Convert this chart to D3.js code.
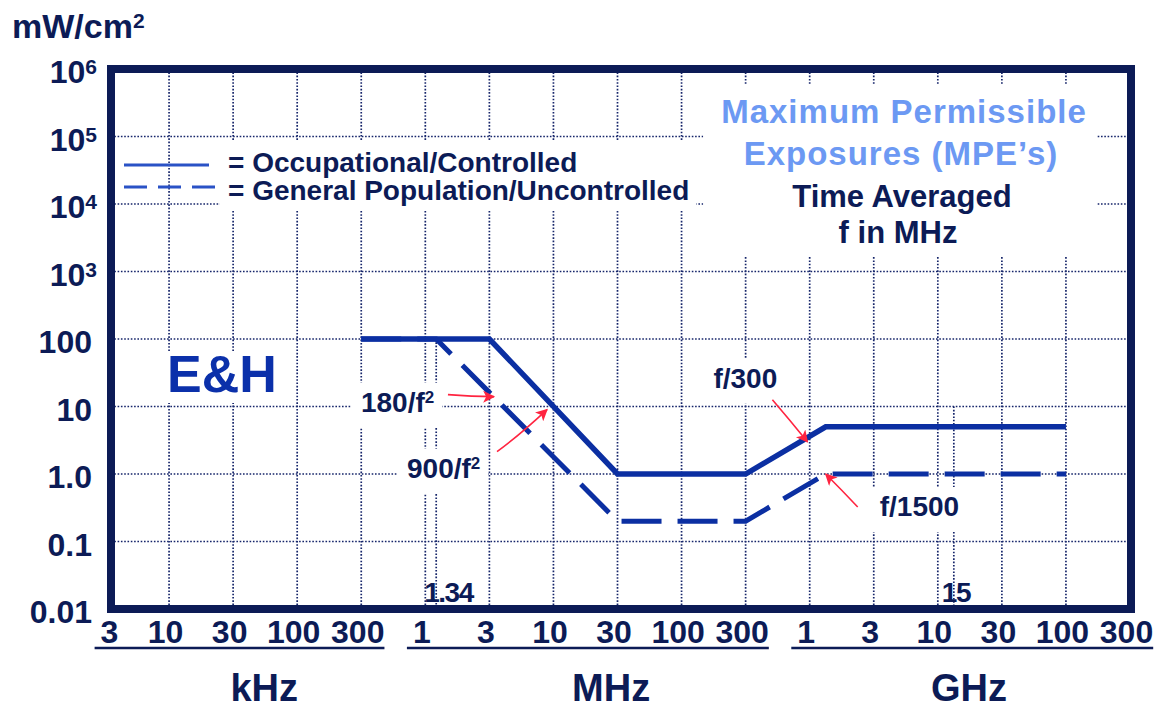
<!DOCTYPE html>
<html>
<head>
<meta charset="utf-8">
<script src="https://cdn.jsdelivr.net/npm/d3@7"></script>
<style>
  body { margin: 0; background: #fff; }
  svg { display: block; font-family: "Liberation Sans", Arial, sans-serif; font-weight: bold; }
</style>
</head>
<body>
<svg id="chart" width="1174" height="708"></svg>
<script>
// ---- Frequency axis (values in MHz), one tick per 1-3-10 step ----
const freqTicks = [0.003, 0.01, 0.03, 0.1, 0.3, 1, 3, 10, 30, 100, 300, 1000, 3000, 10000, 30000, 100000, 300000];
const tickLabels = ["3", "10", "30", "100", "300", "1", "3", "10", "30", "100", "300", "1", "3", "10", "30", "100", "300"];
const tickUnit = ["kHz", "kHz", "kHz", "kHz", "kHz", "MHz", "MHz", "MHz", "MHz", "MHz", "MHz", "GHz", "GHz", "GHz", "GHz", "GHz", "GHz"];
const unitNames = ["kHz", "MHz", "GHz"];
const unitCenters = [0.064, 28, 19700];

// Break-point frequencies marked on the axis
const breakFreqs = [1.34, 15000];
const breakLabels = ["1.34", "15"];
const breakGridFrom = [100, 10];

// ---- Power density axis (mW/cm²) ----
const decades = [0.01, 0.1, 1, 10, 100, 1e3, 1e4, 1e5, 1e6];
const decadeMain = ["0.01", "0.1", "1.0", "10", "100", "10", "10", "10", "10"];
const decadeSup = ["", "", "", "", "", "3", "4", "5", "6"];

// ---- MPE limits ----
// Occupational / controlled
const occFreq = [0.3, 3, 30, 300, 1500, 100000];
const occDensity = [100, 100, 1, 1, 5, 5];
// General population / uncontrolled
const genFreq = [0.3, 1.34, 30, 300, 1500, 100000];
const genDensity = [100, 100, 0.2, 0.2, 1, 1];

// Formula call-outs: label text, superscript, point on the curve
const formulaText = ["180/f", "900/f", "f/300", "f/1500"];
const formulaSup = ["2", "2", "", ""];
const formulaFreq = [3.5, 9.3, 975, 1500];
const formulaDensity = [14, 9, 3, 1];

// ---- Styling ----
const NAVY = "#0c1b56";
const GRID = "#16256a";
const CURVE = "#0b2fa2";
const LEGEND_LINE = "#2a52c6";
const TITLE_BLUE = "#6c99f3";
const EH_BLUE = "#0b30aa";
const ARROW_RED = "#ff2440";

const svg = d3.select("#chart");
const gGrid = svg.append("g");
const gKnock = svg.append("g");
const gData = svg.append("g");
const gText = svg.append("g").attr("fill", NAVY);

// Evenly spaced 1-3-10 steps, linear between steps
const stepX = d3.scalePoint().domain(d3.range(freqTicks.length)).range([105, 1130]);
const x = d3.scaleLinear().domain(freqTicks).range(freqTicks.map((d, i) => stepX(i)));
const y = d3.scaleLog().domain([0.01, 1e6]).range([609, 69]);

const frame = { left: 111, right: 1131, top: y(1e6), bottom: y(0.01) };

// Knock-out helper: white box behind a text block so the grid breaks around it
function knockOut(node, padL, padR, padT, padB) {
  const b = node.getBBox();
  gKnock.append("rect")
    .attr("x", b.x - padL).attr("y", b.y - padT)
    .attr("width", b.width + padL + padR).attr("height", b.height + padT + padB)
    .attr("fill", "#fff");
}

// ---- Grid ----
const dotted = sel => sel.attr("stroke", GRID).attr("stroke-width", 1.7).attr("stroke-dasharray", "1.6 1.7");

gGrid.selectAll("line.v").data(freqTicks.slice(1, -1)).join("line")
  .attr("class", "v")
  .attr("x1", d => x(d)).attr("x2", d => x(d))
  .attr("y1", frame.top).attr("y2", frame.bottom)
  .call(dotted);

gGrid.selectAll("line.vb").data(breakFreqs).join("line")
  .attr("class", "vb")
  .attr("x1", d => x(d)).attr("x2", d => x(d))
  .attr("y1", (d, i) => y(breakGridFrom[i])).attr("y2", frame.bottom)
  .call(dotted);

gGrid.selectAll("line.h").data(decades.slice(1, -1)).join("line")
  .attr("class", "h")
  .attr("x1", frame.left).attr("x2", frame.right)
  .attr("y1", d => y(d)).attr("y2", d => y(d))
  .call(dotted);

// ---- Curves ----
const line = d3.line().x(d => x(d[0])).y(d => y(d[1]));

gData.append("path")
  .datum(genFreq.map((f, i) => [f, genDensity[i]]))
  .attr("d", line)
  .attr("fill", "none").attr("stroke", CURVE).attr("stroke-width", 5)
  .attr("stroke-dasharray", "40 16");

gData.append("path")
  .datum(occFreq.map((f, i) => [f, occDensity[i]]))
  .attr("d", line)
  .attr("fill", "none").attr("stroke", CURVE).attr("stroke-width", 5.5)
  .attr("stroke-linejoin", "miter");

// ---- Frame ----
gData.append("rect")
  .attr("x", frame.left).attr("y", frame.top)
  .attr("width", frame.right - frame.left).attr("height", frame.bottom - frame.top)
  .attr("fill", "none").attr("stroke", NAVY).attr("stroke-width", 8);

// ---- Y axis labels ----
const yAxis = d3.axisLeft(y).tickValues(decades).tickSize(0).tickFormat((d, i) => decadeMain[i]);
const gy = gText.append("g").call(yAxis);
gy.attr("font-size", null).attr("font-family", null).attr("fill", NAVY);
gy.select(".domain").remove();
gy.selectAll(".tick text")
  .attr("fill", NAVY)
  .style("font-size", "32px")
  .attr("dy", null)
  .attr("y", 13.5)
  .attr("x", (d, i) => decadeSup[i] ? 97 : 92)
  .each(function (d, i) {
    if (decadeSup[i]) {
      d3.select(this).append("tspan").attr("dy", -9).style("font-size", "21px").text(decadeSup[i]);
    }
  });

// Unit label of the power axis
const unitY = gText.append("text").attr("x", 12).attr("y", 38).style("font-size", "34px");
unitY.append("tspan").text("mW/cm");
unitY.append("tspan").attr("dy", -10).style("font-size", "21px").text("2");

// ---- X axis labels ----
const xAxis = d3.axisBottom(x).tickValues(freqTicks).tickSize(0).tickFormat((d, i) => tickLabels[i]);
const gx = gText.append("g").attr("transform", "translate(0,643)").call(xAxis);
gx.attr("font-size", null).attr("font-family", null).attr("fill", NAVY);
gx.select(".domain").remove();
gx.selectAll(".tick text")
  .attr("fill", NAVY)
  .style("font-size", "32px")
  .attr("dy", null).attr("y", 0).attr("dx", (d, i) => i === 0 ? 4 : -4);

// Unit groups: underline beneath each group's labels and the unit name
const tickTextNodes = gx.selectAll(".tick text").nodes();
unitNames.forEach((u, k) => {
  const boxes = tickTextNodes.filter((n, i) => tickUnit[i] === u).map(n => {
    const b = n.getBBox();
    const t = n.parentNode.transform.baseVal.consolidate().matrix.e;
    const dx = +n.getAttribute("dx") || 0;
    return [b.x + t, b.x + t + b.width];
  });
  const x0 = d3.min(boxes, b => b[0]) - 6;
  const x1 = d3.max(boxes, b => b[1]);
  gText.append("line")
    .attr("x1", x0).attr("x2", x1).attr("y1", 648).attr("y2", 648)
    .attr("stroke", NAVY).attr("stroke-width", 2.5);
  gText.append("text")
    .attr("x", x(unitCenters[k])).attr("y", 701)
    .attr("text-anchor", "middle").style("font-size", "38px")
    .text(u);
});

// Break-point labels just above the axis
gText.selectAll("text.brk").data(breakFreqs).join("text")
  .attr("class", "brk")
  .attr("x", d => x(d) - 12).attr("y", 602)
  .style("font-size", "28px").style("letter-spacing", "-1.5px")
  .text((d, i) => breakLabels[i]);

// ---- Legend ----
const gLegend = gText.append("g");
gLegend.append("line").attr("x1", 124).attr("x2", 209).attr("y1", 165).attr("y2", 165)
  .attr("stroke", LEGEND_LINE).attr("stroke-width", 3);
gLegend.append("line").attr("x1", 124).attr("x2", 216).attr("y1", 187).attr("y2", 187)
  .attr("stroke", LEGEND_LINE).attr("stroke-width", 3).attr("stroke-dasharray", "23 11");
const legendText = gLegend.append("g");
legendText.append("text").attr("x", 228).attr("y", 172).style("font-size", "28px").text("= Occupational/Controlled");
legendText.append("text").attr("x", 228).attr("y", 200).style("font-size", "28px").text("= General Population/Uncontrolled");
knockOut(legendText.node(), 8, 7, 7, 4);

// ---- Title block ----
const gTitle = gText.append("g").attr("text-anchor", "middle");
gTitle.append("text").attr("x", 904).attr("y", 123).attr("fill", TITLE_BLUE)
  .style("font-size", "33px").style("letter-spacing", "1px").text("Maximum Permissible");
gTitle.append("text").attr("x", 901).attr("y", 165).attr("fill", TITLE_BLUE)
  .style("font-size", "33px").style("letter-spacing", "1px").text("Exposures (MPE\u2019s)");
gTitle.append("text").attr("x", 902).attr("y", 207).style("font-size", "31px").text("Time Averaged");
gTitle.append("text").attr("x", 898).attr("y", 243).style("font-size", "31px").text("f in MHz");
knockOut(gTitle.node(), 18, 10, 8, 6);

// ---- Field label ----
const eh = gText.append("text").attr("x", 167).attr("y", 392).attr("fill", EH_BLUE)
  .style("font-size", "52px").text("E&H");
knockOut(eh.node(), 0, 0, -6, 0);

// ---- Formula call-outs with red arrows ----
svg.append("defs").append("marker")
  .attr("id", "head").attr("viewBox", "0 0 10 10").attr("refX", 9).attr("refY", 5)
  .attr("markerUnits", "userSpaceOnUse").attr("markerWidth", 14).attr("markerHeight", 12)
  .attr("orient", "auto")
  .append("path").attr("d", "M0,0 L10,5 L0,10 L2.5,5 Z").attr("fill", ARROW_RED);

// label offset and arrow tail relative to the arrow tip
const calloutLayout = [
  { lx: -133, ly: 15, tx: -46, ty: -2, cx: -22, cy: 0 },
  { lx: -140, ly: 68, tx: -50, ty: 42, cx: -28, cy: 26 },
  { lx: -94, ly: -54, tx: -35, ty: -42, cx: -17, cy: -21 },
  { lx: 54, ly: 42, tx: 32, ty: 33, cx: 16, cy: 16 }
];

formulaText.forEach((t, i) => {
  const px = x(formulaFreq[i]), py = y(formulaDensity[i]);
  const L = calloutLayout[i];
  const label = gText.append("text").attr("x", px + L.lx).attr("y", py + L.ly).style("font-size", "28px");
  label.append("tspan").text(t);
  if (formulaSup[i]) label.append("tspan").attr("dy", -9).style("font-size", "17px").text(formulaSup[i]);
  knockOut(label.node(), 10, 8, 4, 10);
  gData.append("path")
    .attr("d", `M${px + L.tx},${py + L.ty} Q${px + L.cx},${py + L.cy} ${px},${py}`)
    .attr("fill", "none").attr("stroke", ARROW_RED).attr("stroke-width", 1.6)
    .attr("marker-end", "url(#head)");
});
</script>
</body>
</html>
